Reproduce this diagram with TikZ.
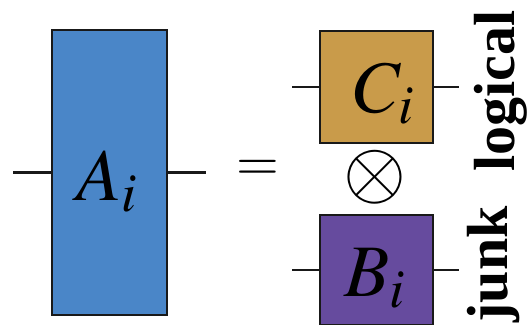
\documentclass[tikz,border=0pt]{standalone}
\usepackage{mathptmx}
\usepackage{fontspec}
\setmainfont{Liberation Serif}
\definecolor{gateblue}{RGB}{74,134,200}
\definecolor{gateorange}{RGB}{201,155,74}
\definecolor{gatepurple}{RGB}{102,75,158}
\tikzset{
  gatebox/.style={draw=black!90, line width=2.8pt, inner sep=0pt},
  gatelabel/.style={inner sep=0pt, font=\fontsize{74}{74}\selectfont},
  opsign/.style={inner sep=0pt},
  wire/.style={line width=2.8pt, draw=black!90},
  sidelabel/.style={rotate=90, inner sep=0pt, font=\fontsize{58}{58}\selectfont\bfseries}
}

\begin{document}
\begin{tikzpicture}[x=1pt,y=-1pt]
\useasboundingbox (0,0) rectangle (529,324);
\node[gatebox, fill=gateblue, minimum width=115pt, minimum height=285pt] (Abox) at (109.5,172.5) {};
\node[gatebox, fill=gateorange, minimum width=113pt, minimum height=112pt] (Cbox) at (376.5,87) {};
\node[gatebox, fill=gatepurple, minimum width=113pt, minimum height=110pt] (Bbox) at (376.5,270) {};
\node[gatelabel] (Alabel) at (107,181) {$A_i$};
\node[gatelabel] (Clabel) at (384,93.5) {$C_i$};
\node[gatelabel] (Blabel) at (375,278.5) {$B_i$};
\node[opsign, font=\fontsize{55}{55}\selectfont] (equals) at (257.5,170) {$=$};
\node[opsign, font=\fontsize{81}{81}\selectfont] (tensor) at (374.5,177) {$\otimes$};
\node[sidelabel] (logical) at (501,91) {logical};
\node[sidelabel] (junk) at (494,264.5) {junk};
\coordinate (Ain) at (13,172.5);
\coordinate (Aout) at (206,172.5);
\coordinate (Cin) at (292,87);
\coordinate (Cout) at (459,87);
\coordinate (Bin) at (292,270);
\coordinate (Bout) at (459,270);
\draw[wire] (Ain) -- (Abox.west);
\draw[wire] (Abox.east) -- (Aout);
\draw[wire] (Cin) -- (Cbox.west);
\draw[wire] (Cbox.east) -- (Cout);
\draw[wire] (Bin) -- (Bbox.west);
\draw[wire] (Bbox.east) -- (Bout);
\end{tikzpicture}
\end{document}
